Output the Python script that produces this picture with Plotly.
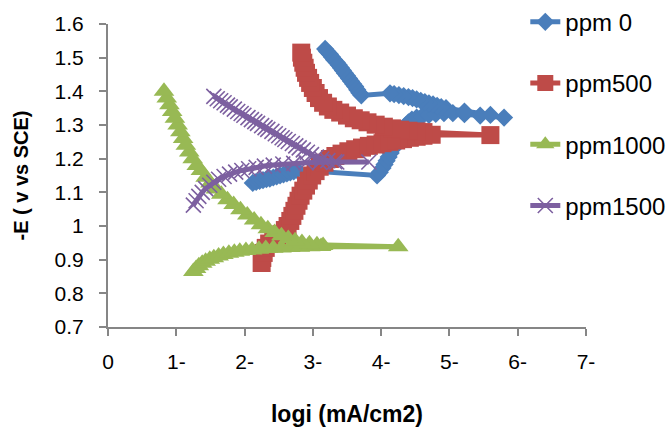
import plotly.graph_objects as go

# ---- data ----
ppm0_x = [2.12, 2.17, 2.22, 2.27, 2.32, 2.37, 2.42, 2.47, 2.52, 2.57, 2.62, 2.67, 2.72, 2.77,
          3.94, 3.98, 4.02, 4.05, 4.08, 4.11, 4.14, 4.17, 4.20, 4.23, 4.26, 4.29, 4.32, 4.36, 4.40,
          4.45, 4.52, 4.60, 4.70, 4.80, 4.92, 5.05, 5.22, 5.45, 5.80,
          5.60, 5.22, 4.95, 4.88, 4.82, 4.76, 4.70, 4.64, 4.58, 4.52, 4.46, 4.40, 4.33, 4.26, 4.19, 4.13,
          3.71, 3.68, 3.65, 3.62, 3.59, 3.56, 3.53, 3.50, 3.47, 3.44, 3.41, 3.38, 3.35, 3.31, 3.28,
          3.25, 3.21, 3.18]
ppm0_y = [1.128, 1.131, 1.134, 1.136, 1.139, 1.141, 1.144, 1.147, 1.150, 1.153, 1.156, 1.159, 1.162, 1.166,
          1.150, 1.160, 1.172, 1.183, 1.194, 1.205, 1.217, 1.229, 1.241, 1.253, 1.265, 1.277, 1.288, 1.299, 1.308,
          1.316, 1.322, 1.326, 1.330, 1.333, 1.335, 1.335, 1.332, 1.328, 1.322,
          1.330, 1.340, 1.350, 1.353, 1.357, 1.361, 1.364, 1.368, 1.372, 1.376, 1.380, 1.383, 1.386, 1.389, 1.392, 1.394,
          1.388, 1.396, 1.405, 1.414, 1.422, 1.430, 1.438, 1.446, 1.454, 1.462, 1.470, 1.478, 1.486, 1.494, 1.502,
          1.510, 1.518, 1.526]

ppm500_x = [2.25, 2.26, 2.28, 2.31, 2.36, 2.42, 2.48, 2.54, 2.59, 2.63, 2.67, 2.70, 2.73, 2.76, 2.79,
            2.82, 2.86, 2.90, 2.94, 2.99, 3.04, 3.10, 3.17, 3.25, 3.33, 3.42, 3.52, 3.62, 3.72, 3.82,
            3.92, 4.02, 4.12, 4.22, 4.32, 4.42, 4.52, 4.62, 4.74, 5.60,
            4.62, 4.52, 4.40, 4.28, 4.16, 4.04, 3.92, 3.80, 3.70, 3.60, 3.50, 3.40, 3.30, 3.22, 3.15,
            3.09, 3.04, 3.00, 2.96, 2.93, 2.90, 2.88, 2.86, 2.84, 2.83]
ppm500_y = [0.890, 0.905, 0.920, 0.935, 0.948, 0.958, 0.966, 0.976, 0.988, 1.000, 1.015, 1.030, 1.045, 1.060, 1.075,
            1.090, 1.105, 1.120, 1.135, 1.150, 1.163, 1.176, 1.188, 1.199, 1.208, 1.215, 1.222, 1.228, 1.233, 1.238,
            1.242, 1.246, 1.250, 1.254, 1.258, 1.262, 1.265, 1.268, 1.271, 1.270,
            1.279, 1.281, 1.283, 1.286, 1.290, 1.295, 1.301, 1.308, 1.314, 1.320, 1.328, 1.337, 1.345, 1.355, 1.366,
            1.380, 1.395, 1.410, 1.425, 1.440, 1.455, 1.470, 1.485, 1.500, 1.515]

ppm1000_x = [1.25, 1.29, 1.33, 1.38, 1.43, 1.49, 1.55, 1.62, 1.69, 1.77, 1.85, 1.93, 2.02, 2.11, 2.21,
             2.31, 2.42, 2.54, 2.67, 2.81, 2.96, 3.12, 4.25,
             3.15, 3.06, 2.95, 2.84, 2.74, 2.64, 2.54, 2.44, 2.34, 2.24, 2.14, 2.04, 1.94, 1.84, 1.75,
             1.66, 1.58, 1.50, 1.43, 1.36, 1.30, 1.24, 1.19, 1.14, 1.10, 1.06, 1.02, 0.98, 0.94, 0.90,
             0.86, 0.82]
ppm1000_y = [0.865, 0.874, 0.882, 0.889, 0.895, 0.901, 0.906, 0.911, 0.915, 0.919, 0.922, 0.925, 0.927, 0.929, 0.931,
             0.933, 0.934, 0.935, 0.936, 0.937, 0.938, 0.939, 0.938,
             0.942, 0.944, 0.947, 0.951, 0.956, 0.963, 0.971, 0.981, 0.992, 1.004, 1.018, 1.033, 1.048, 1.064, 1.078,
             1.094, 1.110, 1.128, 1.145, 1.165, 1.180, 1.200, 1.220, 1.240, 1.260, 1.280, 1.300, 1.320, 1.340, 1.360,
             1.380, 1.400]

ppm1500_x = [1.25, 1.29, 1.33, 1.38, 1.43, 1.49, 1.55, 1.62, 1.70, 1.78, 1.87, 1.96, 2.06, 2.17, 2.29,
             2.42, 2.56, 2.72, 2.90, 3.10, 3.35, 3.82,
             3.32, 3.22, 3.13, 3.05, 2.98, 2.92, 2.86, 2.80, 2.75, 2.70, 2.64, 2.59, 2.55, 2.50, 2.45,
             2.40, 2.34, 2.30, 2.25, 2.19, 2.15, 2.10, 2.05, 1.99, 1.95, 1.90, 1.85, 1.79, 1.75, 1.70,
             1.65, 1.60, 1.55]
ppm1500_y = [1.062, 1.075, 1.088, 1.100, 1.111, 1.121, 1.130, 1.139, 1.147, 1.154, 1.160, 1.165, 1.170, 1.174, 1.178,
             1.181, 1.184, 1.186, 1.188, 1.189, 1.190, 1.190,
             1.191, 1.194, 1.199, 1.205, 1.212, 1.219, 1.226, 1.232, 1.238, 1.245, 1.251, 1.257, 1.262, 1.268, 1.274,
             1.281, 1.287, 1.292, 1.298, 1.305, 1.310, 1.316, 1.322, 1.329, 1.334, 1.340, 1.347, 1.354, 1.359, 1.366,
             1.372, 1.378, 1.385]

x_tickvals = [0, 1, 2, 3, 4, 5, 6, 7]
x_ticktext = ["0", "1-", "2-", "3-", "4-", "5-", "6-", "7-"]
y_tickvals = [0.7, 0.8, 0.9, 1.0, 1.1, 1.2, 1.3, 1.4, 1.5, 1.6]
y_ticktext = ["0.7", "0.8", "0.9", "1", "1.1", "1.2", "1.3", "1.4", "1.5", "1.6"]

series = [
    ("ppm 0", ppm0_x, ppm0_y, "#4A7EBB", "diamond", 14),
    ("ppm500", ppm500_x, ppm500_y, "#BE4B48", "square", 18),
    ("ppm1000", ppm1000_x, ppm1000_y, "#98B954", "triangle-up", 18),
    ("ppm1500", ppm1500_x, ppm1500_y, "#7D60A0", "x-thin", 15),
]

fig = go.Figure()
for name, xs, ys, col, sym, sz in series:
    marker = dict(symbol=sym, size=sz, color=col, line=dict(width=0, color=col))
    if sym == "x-thin":
        marker["line"] = dict(width=1.6, color=col)
    fig.add_trace(go.Scatter(x=xs, y=ys, mode="lines+markers", name=name, legendgroup=name,
                             line=dict(color=col, width=5), marker=marker))

axis_col = "#868686"
fig.update_layout(
    width=670, height=432,
    margin=dict(l=108, r=84, t=24, b=105, autoexpand=False),
    paper_bgcolor="white", plot_bgcolor="white",
    font=dict(family="Liberation Sans, Arial, sans-serif", color="black"),
    xaxis=dict(range=[0, 7], tickvals=x_tickvals, ticktext=x_ticktext,
               showgrid=False, zeroline=False, showline=True, linecolor=axis_col, linewidth=2,
               ticks="outside", ticklen=7, tickwidth=1.5, tickcolor=axis_col,
               tickfont=dict(size=21), ticklabelstandoff=8,
               title=dict(text="<b>logi (mA/cm2)</b>", font=dict(size=23), standoff=34)),
    yaxis=dict(range=[0.7, 1.6], tickvals=y_tickvals, ticktext=y_ticktext,
               showgrid=False, zeroline=False, showline=True, linecolor=axis_col, linewidth=2,
               ticks="outside", ticklen=7, tickwidth=1.5, tickcolor=axis_col,
               tickfont=dict(size=21), ticklabelstandoff=11,
               title=dict(text="<b>-E ( v vs SCE)</b>", font=dict(size=20), standoff=21)),
    legend=dict(x=0.873, y=1.08, xanchor="left", yanchor="top", traceorder="grouped",
                tracegroupgap=27, font=dict(size=24), bgcolor="rgba(0,0,0,0)", maxheight=400),
)
fig.write_html("out.html")
